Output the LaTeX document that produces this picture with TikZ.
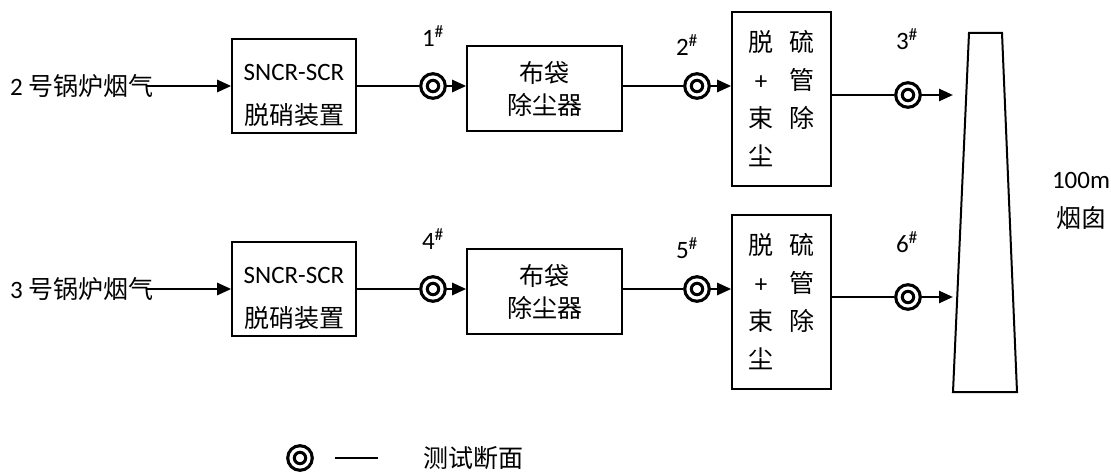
\documentclass[tikz,border=0pt]{standalone}
\usepackage{fontspec}
\setmainfont{Carlito}
\newfontfamily\cjk{Noto Sans CJK SC}
\usetikzlibrary{arrows.meta,positioning}
\newcommand{\zh}[1]{{\cjk #1}}
\newcommand{\dcol}[2]{\makebox[41pt][c]{#1}\makebox[41pt][c]{#2}}
\newcommand{\pt}[1]{#1\textsuperscript{\#}}

\begin{document}
\begin{tikzpicture}[x=1pt, y=-1pt,
    unit/.style 2 args={draw, line width=1.6pt, minimum width=#1,
                  minimum height=#2, align=center, inner sep=0pt,
                  font=\fontsize{25}{32}\selectfont},
    probe/.style={circle, draw, line width=3.2pt, double, double distance=3.2pt,
                  minimum size=18pt, inner sep=0pt, outer sep=4.8pt},
    tag/.style={font=\fontsize{25}{30}\selectfont, inner sep=0pt},
    flow/.style={line width=2.6pt},
    feed/.style={flow, -{Triangle[length=14pt,width=12pt]}},
  ]
    \useasboundingbox (0,0) rectangle (1111,473);

    % --- boiler 2 line ------------------------------------------------------
    \node[tag, anchor=west] (in1) at (10,86) {2 \zh{号锅炉烟气}};
    \node[unit={124pt}{94pt}] (sncr1) at (294,86) {};
    \node[tag, align=center, font=\fontsize{25}{44}\selectfont]
         (sncr1t) at ([yshift=-9pt]sncr1.center) {SNCR-SCR\\\zh{脱硝装置}};
    \node[probe] (p1) at (433,86) {};
    \node[unit={155pt}{85pt}] (bag1) at (544.5,88.5) {\zh{布袋}\\\zh{除尘器}};
    \node[probe] (p2) at (697,86) {};
    \node[unit={99pt}{174pt}, font=\fontsize{25}{38}\selectfont] (des1) at (781.5,99)
         {\dcol{\zh{脱}}{\zh{硫}}\\\dcol{+}{\zh{管}}\\\dcol{\zh{束}}{\zh{除}}\\\dcol{\zh{尘}}{}};
    \node[probe] (p3) at (908,95) {};
    \coordinate (st1) at (953,95);

    % --- boiler 3 line ------------------------------------------------------
    \node[tag, anchor=west] (in2) at (10,289) {3 \zh{号锅炉烟气}};
    \node[unit={124pt}{94pt}] (sncr2) at (294,289) {};
    \node[tag, align=center, font=\fontsize{25}{44}\selectfont]
         (sncr2t) at ([yshift=-9pt]sncr2.center) {SNCR-SCR\\\zh{脱硝装置}};
    \node[probe] (p4) at (433,289) {};
    \node[unit={155pt}{85pt}] (bag2) at (544.5,291.5) {\zh{布袋}\\\zh{除尘器}};
    \node[probe] (p5) at (697,289) {};
    \node[unit={99pt}{174pt}, font=\fontsize{25}{38}\selectfont] (des2) at (781.5,302)
         {\dcol{\zh{脱}}{\zh{硫}}\\\dcol{+}{\zh{管}}\\\dcol{\zh{束}}{\zh{除}}\\\dcol{\zh{尘}}{}};
    \node[probe] (p6) at (908,297) {};
    \coordinate (st2) at (953,297);

    % --- section numbers ----------------------------------------------------
    \node[tag] (n1) at (433,36)  {\pt{1}};
    \node[tag] (n2) at (687,45)  {\pt{2}};
    \node[tag] (n3) at (907,39)  {\pt{3}};
    \node[tag] (n4) at (433,239) {\pt{4}};
    \node[tag] (n5) at (687,248) {\pt{5}};
    \node[tag] (n6) at (907,242) {\pt{6}};

    % --- stack --------------------------------------------------------------
    \draw[line width=2pt] (969,33) -- (1002,33) -- (1017,392) -- (953,392) -- cycle;
    \node[tag, align=center, font=\fontsize{25}{39}\selectfont]
         (stk) at (1081,201) {100m\\\zh{烟囱}};

    % --- flue gas connectors ------------------------------------------------
    \draw[feed] ([xshift=-8pt]in1.east) -- (in1.east -| sncr1.west);
    \draw[flow] (sncr1) -- (p1);  \draw[feed] (p1) -- (p1 -| bag1.west);
    \draw[flow] (bag1.east |- p2) -- (p2);  \draw[feed] (p2) -- (p2 -| des1.west);
    \draw[flow] (des1.east |- p3) -- (p3);  \draw[feed] (p3) -- (st1);
    \draw[feed] ([xshift=-8pt]in2.east) -- (in2.east -| sncr2.west);
    \draw[flow] (sncr2) -- (p4);  \draw[feed] (p4) -- (p4 -| bag2.west);
    \draw[flow] (bag2.east |- p5) -- (p5);  \draw[feed] (p5) -- (p5 -| des2.west);
    \draw[flow] (des2.east |- p6) -- (p6);  \draw[feed] (p6) -- (st2);

    % --- legend -------------------------------------------------------------
    \node[probe] (lp) at (300,458) {};
    \coordinate (ld) at (335,458);
    \draw[line width=1.5pt] (ld) -- ++(43,0);
    \node[tag] (lt) at (473,458) {\zh{测试断面}};
\end{tikzpicture}
\end{document}
